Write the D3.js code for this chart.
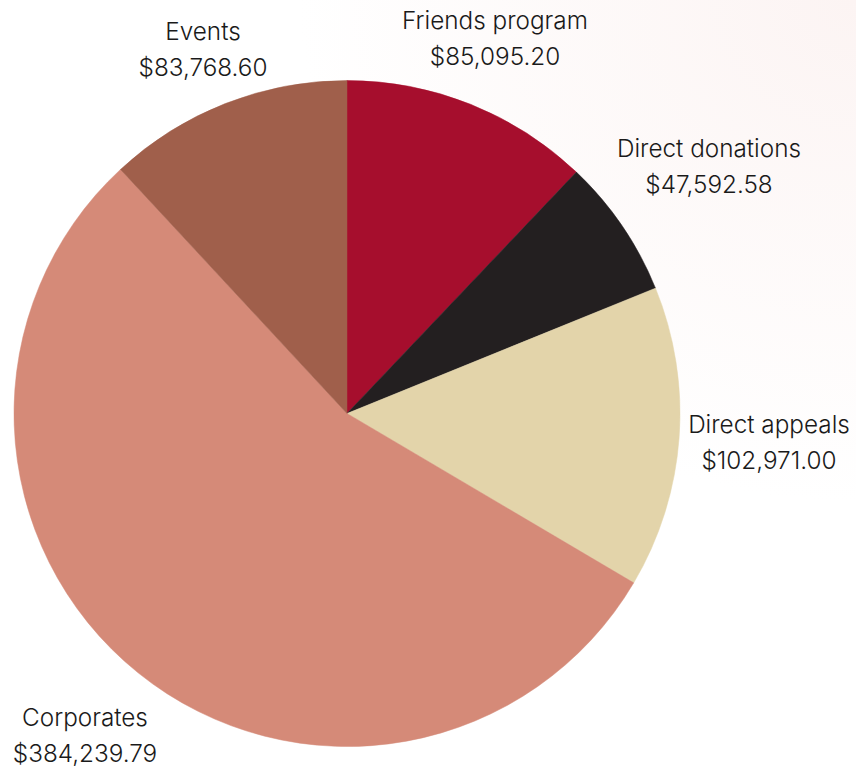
<!DOCTYPE html>
<html>
<head>
<meta charset="utf-8">
<script src="https://cdn.jsdelivr.net/npm/d3@7"></script>
<style>
  html, body { margin: 0; padding: 0; background: #ffffff; }
  svg { display: block; }
</style>
</head>
<body>
<svg id="chart" width="856" height="772"></svg>
<script>
// Funding sources, clockwise from 12 o'clock
const categories = ["Friends program", "Direct donations", "Direct appeals", "Corporates", "Events"];
const amounts = [85095.20, 47592.58, 102971.00, 384239.79, 83768.60];
const sliceColors = ["#a60e2d", "#231f20", "#e3d4aa", "#d58a78", "#a05f4b"];
// Label anchor points (centre of the two-line label)
const labelX = [495, 709, 769, 85, 203];
const labelY = [20, 148, 424, 717, 31];

const width = 856, height = 772;
const cx = 347, cy = 413.5, radius = 333;

const svg = d3.select("#chart");

// faint warm wash in the upper-right corner of the page
const defs = svg.append("defs");
const grad = defs.append("radialGradient")
  .attr("id", "wash").attr("cx", "100%").attr("cy", "0%").attr("r", "65%");
grad.append("stop").attr("offset", "0%").attr("stop-color", "#fcf4f3");
grad.append("stop").attr("offset", "100%").attr("stop-color", "#ffffff");
svg.append("rect").attr("width", width).attr("height", height).attr("fill", "url(#wash)");

const data = categories.map((c, i) => ({ name: c, value: amounts[i], color: sliceColors[i], lx: labelX[i], ly: labelY[i] }));

const pie = d3.pie().sort(null).value(d => d.value).startAngle(0).endAngle(2 * Math.PI);
const arc = d3.arc().innerRadius(0).outerRadius(radius);

const g = svg.append("g").attr("transform", `translate(${cx},${cy})`);
g.selectAll("path")
  .data(pie(data))
  .join("path")
  .attr("d", arc)
  .attr("fill", d => d.data.color)
  .attr("stroke", d => d.data.color)
  .attr("stroke-width", 0.5);

const fmt = d3.format("$,.2f");
const labels = svg.append("g")
  .attr("font-family", "Inter, 'Noto Sans', sans-serif")
  .attr("font-size", 24.3)
  .attr("font-weight", 300)
  .attr("fill", "#1a1a1a")
  .attr("text-anchor", "middle");

data.forEach(d => {
  const t = labels.append("text").attr("x", d.lx).attr("y", d.ly);
  t.append("tspan").attr("x", d.lx).attr("dy", "0.35em").text(d.name);
  t.append("tspan").attr("x", d.lx).attr("dy", 36).text(fmt(d.value));
});
</script>
</body>
</html>
